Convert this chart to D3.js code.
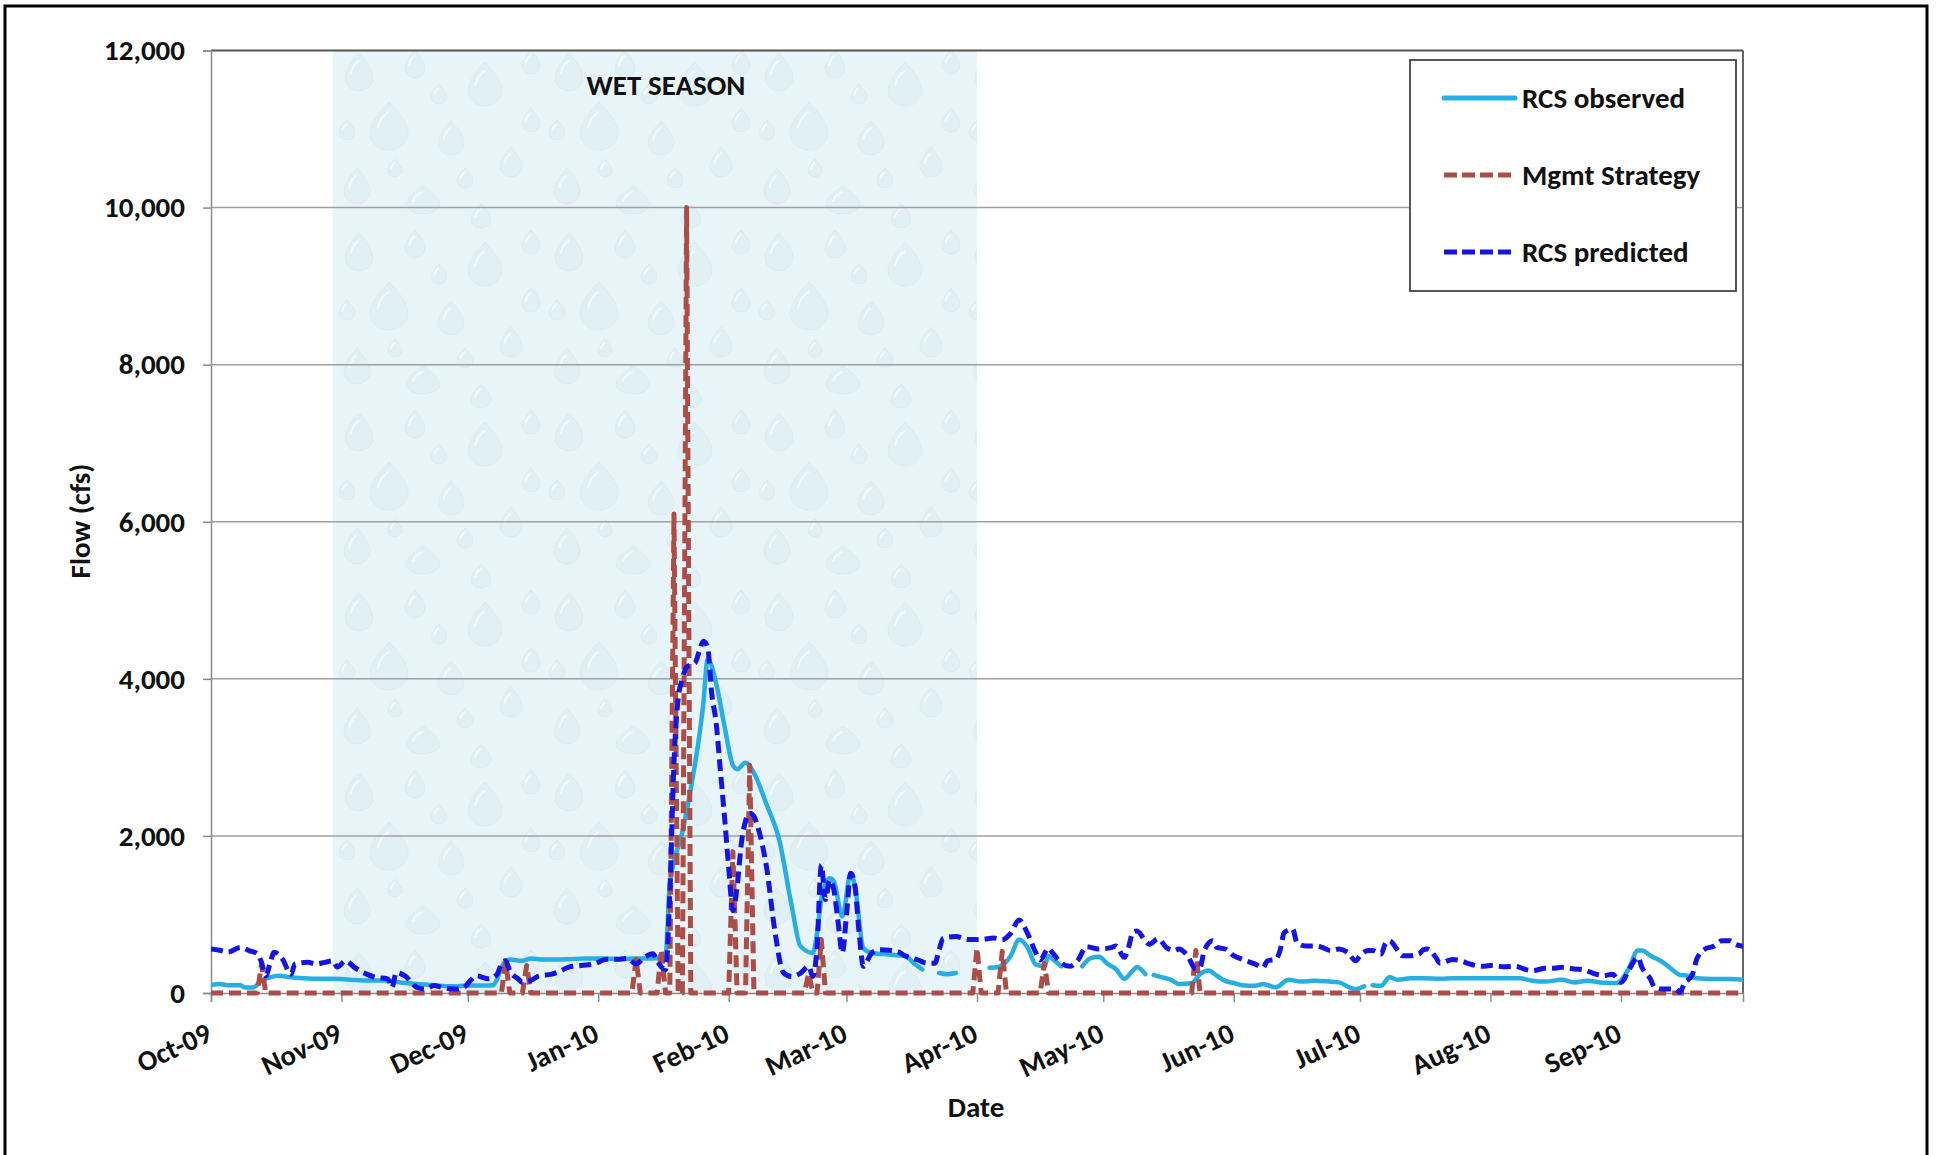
<!DOCTYPE html>
<html><head><meta charset="utf-8">
<script src="https://cdn.jsdelivr.net/npm/d3@7"></script>
<style>
html,body{margin:0;padding:0;background:#fff;}
svg{display:block;}
text{font-family:Calibri,Carlito,Lato,"Open Sans",sans-serif;font-weight:700;fill:#111;}
</style></head><body>
<svg id="chart" width="1938" height="1155"></svg>
<script>
// ---------------- data ----------------
const seriesNames = ["RCS observed", "Mgmt Strategy", "RCS predicted"];
const yTickValues = [0, 2000, 4000, 6000, 8000, 10000, 12000];
const xDomain = ["2009-10-01", "2010-09-30"];
const wetSeason = ["2009-10-30", "2010-04-01"];
const wetLabel = "WET SEASON";
const xTitle = "Date";
const yTitle = "Flow (cfs)";

const observed = [
["2009-10-01",100],["2009-10-03",115],["2009-10-05",100],["2009-10-08",100],["2009-10-09",70],["2009-10-11",70],["2009-10-13",160],["2009-10-15",200],["2009-10-17",220],["2009-10-20",200],["2009-10-22",190],["2009-10-26",180],["2009-10-30",180],
["2009-11-03",170],["2009-11-07",160],["2009-11-11",160],["2009-11-15",135],["2009-11-19",115],["2009-11-23",100],["2009-11-27",85],
["2009-12-01",95],["2009-12-05",95],["2009-12-07",100],["2009-12-08",180],["2009-12-09",330],["2009-12-11",425],["2009-12-14",410],["2009-12-16",440],["2009-12-19",425],["2009-12-22",425],["2009-12-25",430],["2009-12-29",440],
["2010-01-02",440],["2010-01-06",430],["2010-01-10",440],["2010-01-14",440],["2010-01-17",470],["2010-01-18",1380],["2010-01-21",2050],["2010-01-23",2600],["2010-01-26",3700],["2010-01-27",4250],["2010-01-29",3950],["2010-01-31",3400],
["2010-02-02",2900],["2010-02-03",2850],["2010-02-05",2930],["2010-02-07",2800],["2010-02-10",2400],["2010-02-13",1950],["2010-02-16",1100],["2010-02-18",600],["2010-02-21",510],["2010-02-22",760],["2010-02-23",1190],["2010-02-25",1460],["2010-02-26",1420],["2010-02-28",975],
["2010-03-02",1525],["2010-03-03",1360],["2010-03-05",570],["2010-03-07",510],["2010-03-11",490],["2010-03-15",470],["2010-03-17",380],["2010-03-19",300],["2010-03-20",null],["2010-03-23",255],["2010-03-25",240],["2010-03-27",255],["2010-03-28",null],
["2010-04-04",320],["2010-04-06",330],["2010-04-09",470],["2010-04-11",680],["2010-04-13",580],["2010-04-15",360],["2010-04-17",340],["2010-04-18",470],["2010-04-19",430],["2010-04-21",340],["2010-04-23",null],["2010-04-26",340],["2010-04-28",445],["2010-04-30",460],
["2010-05-02",370],["2010-05-04",305],["2010-05-06",180],["2010-05-08",285],["2010-05-09",330],["2010-05-11",240],["2010-05-12",null],["2010-05-13",230],["2010-05-15",200],["2010-05-17",170],["2010-05-19",115],["2010-05-22",125],["2010-05-24",240],["2010-05-26",285],["2010-05-28",220],["2010-05-30",155],
["2010-06-01",127],["2010-06-03",100],["2010-06-06",93],["2010-06-08",115],["2010-06-11",72],["2010-06-14",170],["2010-06-17",145],["2010-06-20",157],["2010-06-23",150],["2010-06-26",135],["2010-06-29",60],["2010-06-30",50],
["2010-07-02",85],["2010-07-03",null],["2010-07-04",100],["2010-07-06",93],["2010-07-08",200],["2010-07-10",170],["2010-07-13",187],["2010-07-16",187],["2010-07-20",180],["2010-07-23",187],["2010-07-27",187],["2010-07-31",187],
["2010-08-04",187],["2010-08-08",187],["2010-08-11",157],["2010-08-14",145],["2010-08-18",170],["2010-08-21",135],["2010-08-24",157],["2010-08-27",135],["2010-08-31",127],
["2010-09-01",160],["2010-09-03",325],["2010-09-05",540],["2010-09-06",540],["2010-09-08",475],["2010-09-11",390],["2010-09-13",305],["2010-09-15",230],["2010-09-17",220],["2010-09-19",187],["2010-09-23",178],["2010-09-27",178],["2010-09-30",170]
];

const mgmtStrategy = [
["2009-10-01",0],["2009-10-12",0],["2009-10-13",370],["2009-10-14",0],
["2009-12-09",0],["2009-12-10",390],["2009-12-11",0],
["2009-12-14",0],["2009-12-15",350],["2009-12-16",0],
["2010-01-09",0],["2010-01-10",430],["2010-01-11",0],
["2010-01-15",0],["2010-01-16",550],["2010-01-17",0],
["2010-01-18",0],["2010-01-19",6100],["2010-01-20",0],
["2010-01-21",0],["2010-01-22",10000],["2010-01-23",0],
["2010-02-01",0],["2010-02-02",1800],["2010-02-03",0],
["2010-02-05",0],["2010-02-06",2900],["2010-02-07",0],
["2010-02-19",0],["2010-02-20",250],["2010-02-21",0],
["2010-02-22",0],["2010-02-23",680],["2010-02-24",0],
["2010-03-31",0],["2010-04-01",570],["2010-04-02",0],
["2010-04-06",0],["2010-04-07",530],["2010-04-08",0],
["2010-04-16",0],["2010-04-17",380],["2010-04-18",0],
["2010-05-22",0],["2010-05-23",540],["2010-05-24",0],
["2010-09-30",0]
];

const predicted = [
["2009-10-01",560],["2009-10-03",545],["2009-10-05",520],["2009-10-08",580],["2009-10-10",540],["2009-10-12",500],["2009-10-13",390],["2009-10-14",220],["2009-10-15",370],["2009-10-16",520],["2009-10-18",430],["2009-10-20",240],["2009-10-21",370],["2009-10-24",390],["2009-10-26",370],["2009-10-28",390],["2009-10-30",410],["2009-10-31",330],
["2009-11-02",410],["2009-11-04",330],["2009-11-07",240],["2009-11-09",200],["2009-11-12",180],["2009-11-13",70],["2009-11-14",260],["2009-11-16",220],["2009-11-19",70],["2009-11-21",50],["2009-11-23",95],["2009-11-25",70],["2009-11-28",50],["2009-11-30",70],
["2009-12-02",180],["2009-12-03",220],["2009-12-06",180],["2009-12-08",240],["2009-12-09",370],["2009-12-10",410],["2009-12-11",280],["2009-12-13",180],["2009-12-14",135],["2009-12-16",160],["2009-12-18",220],["2009-12-21",240],["2009-12-23",280],["2009-12-25",330],["2009-12-28",350],["2009-12-31",370],
["2010-01-03",430],["2010-01-06",430],["2010-01-08",440],["2010-01-10",370],["2010-01-12",455],["2010-01-14",500],["2010-01-15",410],["2010-01-16",330],["2010-01-17",300],["2010-01-18",1250],["2010-01-19",2930],["2010-01-20",3750],["2010-01-21",4000],["2010-01-22",4150],["2010-01-24",4200],["2010-01-25",4350],["2010-01-26",4480],["2010-01-27",4400],["2010-01-28",3800],["2010-01-29",3450],["2010-01-30",2850],["2010-01-31",2250],
["2010-02-01",1600],["2010-02-02",1050],["2010-02-03",1350],["2010-02-04",1900],["2010-02-05",2190],["2010-02-06",2290],["2010-02-07",2250],["2010-02-08",2100],["2010-02-10",1600],["2010-02-12",780],["2010-02-14",260],["2010-02-16",210],["2010-02-18",250],["2010-02-20",340],["2010-02-21",210],["2010-02-22",590],["2010-02-23",1630],["2010-02-24",1190],["2010-02-25",1440],["2010-02-26",1310],["2010-02-27",900],["2010-02-28",510],
["2010-03-01",1000],["2010-03-02",1525],["2010-03-03",1360],["2010-03-04",760],["2010-03-05",340],["2010-03-07",510],["2010-03-09",550],["2010-03-13",530],["2010-03-15",470],["2010-03-18",420],["2010-03-20",380],["2010-03-22",380],["2010-03-23",550],["2010-03-24",700],["2010-03-27",720],["2010-03-30",680],
["2010-04-02",680],["2010-04-05",700],["2010-04-07",680],["2010-04-09",760],["2010-04-11",930],["2010-04-13",760],["2010-04-15",510],["2010-04-16",420],["2010-04-18",570],["2010-04-19",510],["2010-04-21",380],["2010-04-23",340],["2010-04-25",420],["2010-04-27",590],["2010-04-30",560],
["2010-05-03",580],["2010-05-04",600],["2010-05-06",455],["2010-05-07",580],["2010-05-08",770],["2010-05-09",790],["2010-05-11",665],["2010-05-12",620],["2010-05-14",690],["2010-05-16",580],["2010-05-18",540],["2010-05-19",560],["2010-05-21",475],["2010-05-23",305],["2010-05-24",325],["2010-05-25",540],["2010-05-27",665],["2010-05-28",580],["2010-05-30",560],
["2010-06-01",475],["2010-06-03",430],["2010-06-04",410],["2010-06-06",370],["2010-06-08",325],["2010-06-09",410],["2010-06-11",430],["2010-06-12",540],["2010-06-13",770],["2010-06-15",815],["2010-06-16",645],["2010-06-18",600],["2010-06-20",600],["2010-06-22",580],["2010-06-24",540],["2010-06-26",560],["2010-06-28",520],["2010-06-30",410],
["2010-07-01",475],["2010-07-03",540],["2010-07-04",540],["2010-07-06",495],["2010-07-07",625],["2010-07-08",665],["2010-07-10",540],["2010-07-11",475],["2010-07-13",475],["2010-07-15",495],["2010-07-16",550],["2010-07-17",560],["2010-07-19",455],["2010-07-20",380],["2010-07-23",425],["2010-07-25",410],["2010-07-27",370],["2010-07-30",340],
["2010-08-01",350],["2010-08-04",335],["2010-08-07",340],["2010-08-09",305],["2010-08-11",285],["2010-08-14",314],["2010-08-16",314],["2010-08-18",327],["2010-08-21",305],["2010-08-23",297],["2010-08-26",240],["2010-08-28",220],["2010-08-30",240],["2010-08-31",187],
["2010-09-01",135],["2010-09-03",305],["2010-09-05",455],["2010-09-06",325],["2010-09-08",178],["2010-09-09",72],["2010-09-11",50],["2010-09-14",50],["2010-09-15",8],["2010-09-16",115],["2010-09-18",240],["2010-09-19",430],["2010-09-21",560],["2010-09-23",595],["2010-09-25",665],["2010-09-27",665],["2010-09-28",625],["2010-09-30",595]
];

// ---------------- drawing ----------------
const svg = d3.select("#chart");
const P = {left: 211, right: 1743, top: 50.5, bottom: 993};
const parse = d3.timeParse("%Y-%m-%d");
const x = d3.scaleTime().domain(xDomain.map(parse)).range([P.left, P.right]);
const y = d3.scaleLinear().domain([0, 12000]).range([P.bottom, P.top]);

const colors = {obs: "#27aee3", mgmt: "#ad4d47", pred: "#1414e6"};
const FS = 29;

const defs = svg.append("defs");
defs.append("clipPath").attr("id", "plotClip").append("rect")
  .attr("x", P.left).attr("y", P.top - 3).attr("width", P.right - P.left).attr("height", P.bottom - P.top + 6);

// raindrop-like texture for the wet season band (decorative background image substitute)
const TW = 210, TH = 180;
const pat = defs.append("pattern").attr("id", "drops").attr("patternUnits", "userSpaceOnUse")
  .attr("x", 335).attr("y", 50).attr("width", TW).attr("height", TH);
pat.append("rect").attr("width", TW).attr("height", TH).attr("fill", "#e8f5f8");
const dropShapes = [[24,22,14,19],[80,14,10,14],[150,34,17,22],[196,12,9,12],[54,76,19,24],[116,88,13,17],[176,112,11,15],
  [22,136,13,18],[88,150,17,14],[146,166,10,12],[104,44,8,10],[12,80,8,10],[196,70,9,12],[60,118,7,9],[130,128,8,10]];
dropShapes.forEach(([cx, cy, rx, ry]) => {
  const d = `M${cx},${cy - ry} C${cx + rx * 0.5},${cy - ry * 0.6} ${cx + rx},${cy - ry * 0.1} ${cx + rx},${cy + ry * 0.3}` +
            ` A${rx},${ry * 0.7} 0 0 1 ${cx - rx},${cy + ry * 0.3}` +
            ` C${cx - rx},${cy - ry * 0.1} ${cx - rx * 0.5},${cy - ry * 0.6} ${cx},${cy - ry}Z`;
  pat.append("path").attr("d", d)
    .attr("fill", "#dfeff3").attr("stroke", "#d6e9ee").attr("stroke-width", 1).attr("opacity", 0.8);
  pat.append("path").attr("d", `M${cx - rx * 0.6},${cy + ry * 0.1} q${rx * 0.15},${-ry * 0.5} ${rx * 0.6},${-ry * 0.7}`)
    .attr("fill", "none").attr("stroke", "#f5fbfc").attr("stroke-width", 2).attr("opacity", 0.9);
});

// outer frame
svg.append("rect").attr("x", 5).attr("y", 6).attr("width", 1922).attr("height", 1200)
  .attr("fill", "none").attr("stroke", "#000").attr("stroke-width", 3);

// wet season band
const ws = wetSeason.map(parse);
svg.append("rect").attr("x", x(ws[0])).attr("y", P.top).attr("width", x(ws[1]) - x(ws[0]))
  .attr("height", P.bottom - P.top).attr("fill", "url(#drops)");

// gridlines
svg.append("g").selectAll("line").data(yTickValues.filter(v => v > 0 && v < 12000)).join("line")
  .attr("x1", P.left).attr("x2", P.right).attr("y1", d => y(d)).attr("y2", d => y(d))
  .attr("stroke", "#a0a0a0").attr("stroke-width", 1.5);

// plot border top & right
svg.append("line").attr("x1", P.left).attr("x2", P.right).attr("y1", P.top).attr("y2", P.top)
  .attr("stroke", "#555").attr("stroke-width", 1.8);
svg.append("line").attr("x1", P.right).attr("x2", P.right).attr("y1", P.top).attr("y2", P.bottom)
  .attr("stroke", "#555").attr("stroke-width", 1.8);

// y axis
const yAxis = svg.append("g").attr("transform", `translate(${P.left},0)`)
  .call(d3.axisLeft(y).tickValues(yTickValues).tickSize(8).tickPadding(18).tickFormat(d3.format(",")));
yAxis.select(".domain").attr("stroke", "#8c8c8c").attr("stroke-width", 1.5);
yAxis.selectAll(".tick line").attr("stroke", "#8c8c8c").attr("stroke-width", 1.5);
yAxis.selectAll("text").attr("font-size", FS).attr("fill", "#111").attr("font-family", null);

// x axis
const xAxis = svg.append("g").attr("transform", `translate(0,${P.bottom})`)
  .call(d3.axisBottom(x).ticks(d3.timeMonth.every(1)).tickSize(9).tickFormat(d3.timeFormat("%b-%y")));
xAxis.select(".domain").attr("stroke", "#8c8c8c").attr("stroke-width", 1.5);
xAxis.selectAll(".tick line").attr("stroke", "#8c8c8c").attr("stroke-width", 1.5);
xAxis.selectAll("text").attr("font-size", FS - 0.5).attr("fill", "#111").attr("font-family", null)
  .attr("text-anchor", "end").attr("y", 0).attr("dy", 0)
  .attr("transform", "translate(2,47) rotate(-25)");

// lines
const g = svg.append("g").attr("clip-path", "url(#plotClip)");
const mk = arr => arr.map(([d, v]) => ({d: parse(d), v}));
const lineSmooth = d3.line().defined(p => p.v !== null).x(p => x(p.d)).y(p => y(p.v)).curve(d3.curveMonotoneX);
const lineStraight = d3.line().x(p => x(p.d)).y(p => y(p.v));

g.append("path").datum(mk(observed)).attr("d", lineSmooth)
  .attr("fill", "none").attr("stroke", colors.obs).attr("stroke-width", 4.5).attr("stroke-linejoin", "round").attr("stroke-linecap", "round");
g.append("path").datum(mk(mgmtStrategy)).attr("d", lineStraight)
  .attr("fill", "none").attr("stroke", colors.mgmt).attr("stroke-width", 5).attr("stroke-dasharray", "12,6").attr("stroke-linejoin", "round");
g.append("path").datum(mk(predicted)).attr("d", lineSmooth)
  .attr("fill", "none").attr("stroke", colors.pred).attr("stroke-width", 5).attr("stroke-dasharray", "12,6").attr("stroke-linejoin", "round");

// labels
svg.append("text").attr("x", 666).attr("y", 85).attr("dy", "0.35em")
  .attr("text-anchor", "middle").attr("font-size", FS).text(wetLabel);
svg.append("text").attr("transform", "translate(80,521) rotate(-90)").attr("dy", "0.35em")
  .attr("text-anchor", "middle").attr("font-size", FS).text(yTitle);
svg.append("text").attr("x", 976).attr("y", 1107).attr("dy", "0.35em")
  .attr("text-anchor", "middle").attr("font-size", FS).text(xTitle);

// legend
const L = svg.append("g");
L.append("rect").attr("x", 1410).attr("y", 60).attr("width", 326).attr("height", 231)
  .attr("fill", "#fff").attr("stroke", "#444").attr("stroke-width", 1.8);
const legendItems = [
  {name: seriesNames[0], color: colors.obs, dash: null, w: 5},
  {name: seriesNames[1], color: colors.mgmt, dash: "13,5", w: 5},
  {name: seriesNames[2], color: colors.pred, dash: "13,5", w: 5}
];
const legendY = [98, 175, 252];
legendItems.forEach((it, i) => {
  L.append("line").attr("x1", 1444).attr("x2", 1515).attr("y1", legendY[i]).attr("y2", legendY[i])
    .attr("stroke", it.color).attr("stroke-width", it.w).attr("stroke-dasharray", it.dash)
    .attr("stroke-linecap", it.dash ? "butt" : "round");
  L.append("text").attr("x", 1522).attr("y", legendY[i]).attr("dy", "0.35em")
    .attr("font-size", FS).text(it.name);
});
</script>
</body></html>
